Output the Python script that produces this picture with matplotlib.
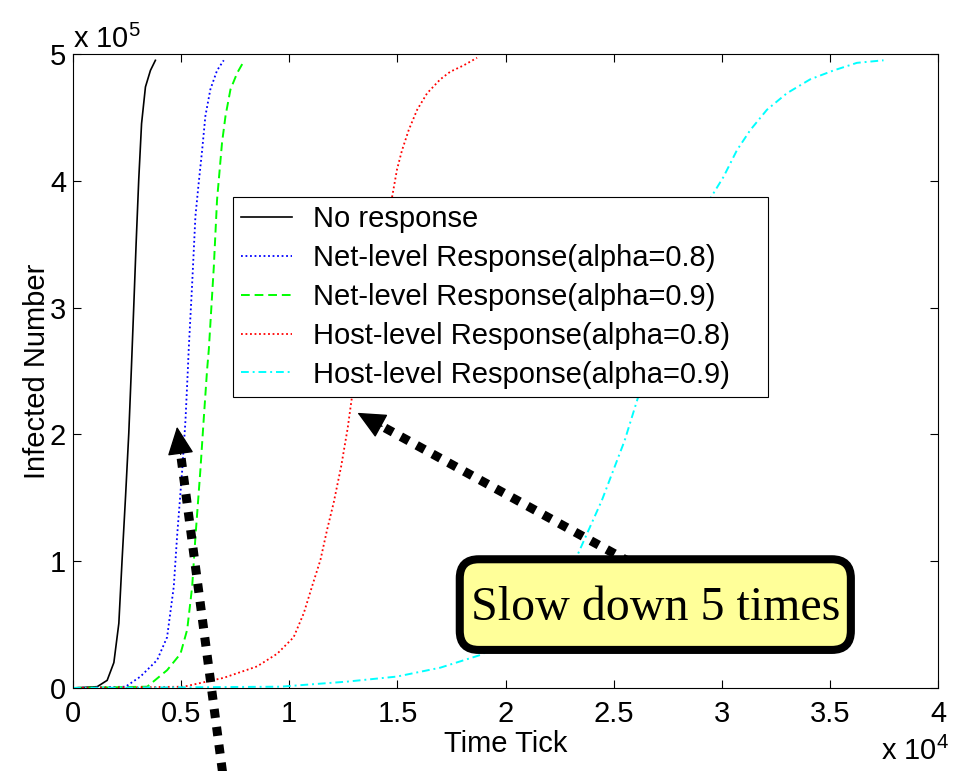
import numpy as np
import matplotlib
matplotlib.use("Agg")
import matplotlib.pyplot as plt
from matplotlib.patches import FancyBboxPatch

plt.rcParams['font.family'] = ['Liberation Sans', 'DejaVu Sans']
plt.rcParams['mathtext.fontset'] = 'custom'
plt.rcParams['mathtext.rm'] = 'Liberation Sans'
plt.rcParams['mathtext.it'] = 'Liberation Sans:italic'

# x in units of 1e4 time ticks, y in units of 1e5 infected hosts
no_resp_x = [0, 0.112, 0.158, 0.189, 0.212, 0.227, 0.243, 0.258, 0.270, 0.281, 0.292, 0.304, 0.317, 0.335, 0.358, 0.381]
no_resp_y = [0, 0.01, 0.06, 0.20, 0.51, 1.01, 1.51, 2.01, 2.52, 3.01, 3.51, 4.01, 4.45, 4.74, 4.87, 4.95]

net08_x = [0, 0.243, 0.312, 0.389, 0.435, 0.466, 0.481, 0.505, 0.520, 0.531, 0.535, 0.551, 0.566, 0.581, 0.597, 0.612, 0.635, 0.666, 0.697]
net08_y = [0, 0.01, 0.09, 0.22, 0.40, 0.80, 1.19, 1.72, 2.11, 2.51, 2.67, 3.19, 3.72, 3.98, 4.24, 4.51, 4.72, 4.87, 4.95]

net09_x = [0, 0.343, 0.435, 0.497, 0.528, 0.551, 0.566, 0.589, 0.604, 0.620, 0.628, 0.651, 0.666, 0.689, 0.705, 0.728, 0.759, 0.789]
net09_y = [0, 0.01, 0.14, 0.27, 0.46, 0.80, 1.19, 1.72, 2.11, 2.51, 2.67, 3.32, 3.85, 4.30, 4.51, 4.72, 4.85, 4.94]

host08_x = [0, 0.512, 0.697, 0.851, 0.944, 1.020, 1.067, 1.105, 1.144, 1.175, 1.205, 1.24, 1.27, 1.29,
            1.35, 1.41, 1.475, 1.498, 1.521, 1.552, 1.591, 1.637, 1.698, 1.744, 1.806, 1.868]
host08_y = [0, 0.01, 0.08, 0.17, 0.27, 0.40, 0.59, 0.80, 1.01, 1.25, 1.46, 1.75, 2.05, 2.3,
            2.95, 3.5, 3.87, 4.09, 4.24, 4.40, 4.56, 4.69, 4.80, 4.86, 4.91, 4.97]

host09_x = [0, 0.959, 1.267, 1.498, 1.698, 1.883, 2.0, 2.1, 2.2, 2.33, 2.445, 2.55, 2.65, 2.75, 2.85,
            2.946, 3.007, 3.069, 3.131, 3.208, 3.300, 3.408, 3.516, 3.624, 3.747]
host09_y = [0, 0.01, 0.05, 0.09, 0.16, 0.26, 0.36, 0.52, 0.72, 1.04, 1.48, 1.95, 2.5, 3.0, 3.45,
            3.86, 4.03, 4.24, 4.40, 4.56, 4.69, 4.80, 4.87, 4.93, 4.95]

labels = ['No response', 'Net-level Response(alpha=0.8)', 'Net-level Response(alpha=0.9)',
          'Host-level Response(alpha=0.8)', 'Host-level Response(alpha=0.9)']
x_ticks = [0, 0.5, 1, 1.5, 2, 2.5, 3, 3.5, 4]
x_tick_labels = ['0', '0.5', '1', '1.5', '2', '2.5', '3', '3.5', '4']
y_ticks = [0, 1, 2, 3, 4, 5]

FS = 21

fig = plt.figure(figsize=(9.54, 7.71), dpi=100)
ax = fig.add_axes([0.0765, 0.1077, 0.907, 0.8223])

ax.plot(no_resp_x, no_resp_y, color='k', lw=1.2, ls='-', label=labels[0])
ax.plot(net08_x, net08_y, color='b', lw=1.3, ls=(0, (1, 1.5)), label=labels[1])
ax.plot(net09_x, net09_y, color=(0, 1, 0), lw=1.4, ls=(0, (4.5, 2.5)), label=labels[2])
ax.plot(host08_x, host08_y, color='r', lw=1.3, ls=(0, (1, 1.5)), label=labels[3])
ax.plot(host09_x, host09_y, color=(0, 1, 1), lw=1.4, ls=(0, (4, 2, 1, 2)), label=labels[4])

ax.set_xlim(0, 4)
ax.set_ylim(0, 5)
ax.set_xticks(x_ticks)
ax.set_xticklabels(x_tick_labels)
ax.set_yticks(y_ticks)
ax.tick_params(direction='in', length=6, width=0.8, top=True, right=True, labelsize=FS)
ax.tick_params(axis='x', pad=9)
ax.tick_params(axis='y', pad=5)
for s in ax.spines.values():
    s.set_linewidth(0.8)

ax.set_xlabel('Time Tick', fontsize=FS, labelpad=1)
ax.set_ylabel('Infected Number', fontsize=FS, labelpad=-1)

ax.text(0.0, 1.0, r'x 10$^{5}$', transform=ax.transAxes, ha='left', va='bottom', fontsize=FS)
fig.text(0.995, 0.014, r'x 10$^{4}$', ha='right', va='baseline', fontsize=FS)

leg = ax.legend(loc='upper left', bbox_to_anchor=(0.185, 0.774, 0.6185, 0.0), mode='expand',
                borderaxespad=0, fontsize=FS, frameon=True, fancybox=False, edgecolor='k',
                framealpha=1, handlelength=1.75, handletextpad=0.7, labelspacing=0.37,
                borderpad=0.28)
leg.get_frame().set_linewidth(0.8)


def dotted_arrow(tip, tail, frac):
    tip = np.array(tip)
    tail = np.array(tail)
    end = tip + (frac * 0.8) * (tail - tip)
    ax.plot([tail[0], end[0]], [tail[1], end[1]], color='k', lw=6.5, ls=(0, (1, 1)),
            dash_capstyle='butt', clip_on=False, zorder=4)
    back = tip + frac * (tail - tip)
    ax.annotate('', xy=tip, xytext=back, annotation_clip=False, zorder=4,
                arrowprops=dict(arrowstyle='-|>,head_length=0.9,head_width=0.42', mutation_scale=20,
                                fc='k', ec='k', lw=1, shrinkA=0, shrinkB=0))


dotted_arrow((0.481, 2.06), (0.691, -0.66), 0.08)
dotted_arrow((1.315, 2.17), (2.577, 0.99), 0.09)

# callout box
bx0, by0, bx1, by1 = 0.447, 0.060, 0.899, 0.203
box = FancyBboxPatch((bx0, by0), bx1 - bx0, by1 - by0, transform=ax.transAxes,
                     boxstyle='round,pad=0,rounding_size=0.022', mutation_aspect=865 / 634,
                     fc='#ffff99', ec='k', lw=5.8, zorder=5, clip_on=False)
ax.add_patch(box)
ax.text((bx0 + bx1) / 2, (by0 + by1) / 2 - 0.006, 'Slow down 5 times', transform=ax.transAxes,
        ha='center', va='center', fontsize=34.5, family='Liberation Serif', zorder=6)

fig.savefig('out.png', dpi=100)
